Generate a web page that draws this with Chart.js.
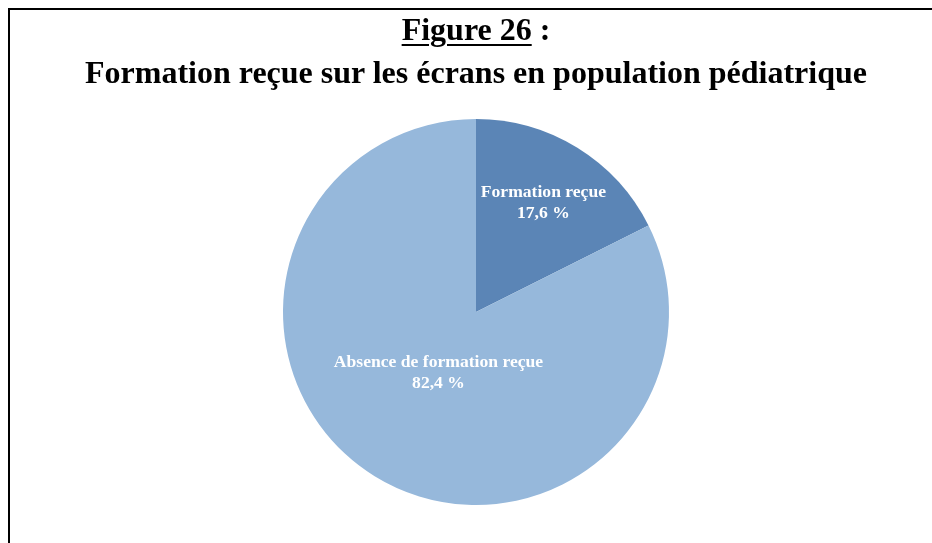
<!DOCTYPE html>
<html>
<head>
<meta charset="utf-8">
<script src="https://cdn.jsdelivr.net/npm/chart.js@4"></script>
<style>
  html, body { margin: 0; padding: 0; background: #fff; }
  #wrap { position: relative; width: 932px; height: 543px; overflow: hidden; }
  #frame { position: absolute; left: 8px; top: 8px; width: 940px; height: 560px;
           border-top: 2px solid #000; border-left: 2px solid #000; box-sizing: border-box; }
  .title { position: absolute; left: 0; width: 932px; text-align: center; padding-left: 20px; box-sizing: border-box;
           font-family: "Liberation Serif", "Times New Roman", serif; font-weight: bold;
           font-size: 32px; line-height: 32px; color: #000; white-space: nowrap; }
  #t1 { top: 13px; }
  #t2 { top: 56px; }
  #t1 u { text-decoration: underline; text-decoration-thickness: 2px; text-underline-offset: 4px; }
  canvas { position: absolute; left: 0; top: 0; }
</style>
</head>
<body>
<div id="wrap">
  <canvas id="c" width="932" height="543"></canvas>
  <div id="frame"></div>
  <div class="title" id="t1"><u>Figure 26</u> :</div>
  <div class="title" id="t2">Formation reçue sur les écrans en population pédiatrique</div>
</div>
<script>
const categories = ["Formation reçue", "Absence de formation reçue"];
const values = [17.6, 82.4];
const valueLabels = ["17,6 %", "82,4 %"];
const colors = ["#5B85B6", "#96B8DB"];
const labelRadiusFactor = [0.665, 0.37];

const sliceLabels = {
  id: 'sliceLabels',
  afterDatasetsDraw(chart) {
    const ctx = chart.ctx;
    const meta = chart.getDatasetMeta(0);
    ctx.save();
    ctx.fillStyle = '#ffffff';
    ctx.font = 'bold 17.6px "Liberation Serif", "Times New Roman", serif';
    ctx.textAlign = 'center';
    ctx.textBaseline = 'middle';
    meta.data.forEach((arc, i) => {
      const p = arc.getProps(['x', 'y', 'startAngle', 'endAngle', 'outerRadius'], true);
      const mid = (p.startAngle + p.endAngle) / 2;
      const r = p.outerRadius * labelRadiusFactor[i];
      const cx = p.x + Math.cos(mid) * r;
      const cy = p.y + Math.sin(mid) * r;
      ctx.fillText(categories[i], cx, cy - 10.5);
      ctx.fillText(valueLabels[i], cx, cy + 10.5);
    });
    ctx.restore();
  }
};

new Chart(document.getElementById('c'), {
  type: 'pie',
  data: {
    labels: categories,
    datasets: [{
      data: values,
      backgroundColor: colors,
      borderWidth: 0
    }]
  },
  options: {
    responsive: false,
    animation: false,
    layout: { padding: { top: 119, bottom: 38, left: 283, right: 263 } },
    plugins: {
      legend: { display: false },
      tooltip: { enabled: false },
      title: { display: false }
    }
  },
  plugins: [sliceLabels]
});
</script>
</body>
</html>
